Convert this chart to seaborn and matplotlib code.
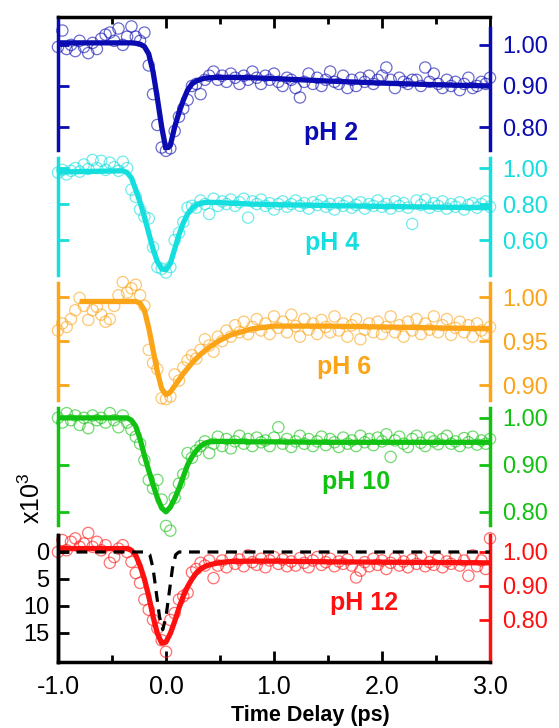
import matplotlib
matplotlib.use("Agg")
import matplotlib.pyplot as plt
import seaborn as sns

# ---------------- data ----------------
TIME = [
    -1.00, -0.96, -0.92, -0.88, -0.84, -0.80, -0.76, -0.72, -0.68, -0.64,
    -0.60, -0.56, -0.52, -0.48, -0.44, -0.40, -0.36, -0.32, -0.28, -0.24,
    -0.20, -0.16, -0.12, -0.08, -0.04, 0.00, 0.04, 0.08, 0.12, 0.16,
    0.20, 0.24, 0.28, 0.32, 0.36, 0.40, 0.44, 0.48, 0.52, 0.56,
    0.60, 0.64, 0.68, 0.72, 0.76, 0.80, 0.84, 0.88, 0.92, 0.96,
    1.00, 1.04, 1.08, 1.12, 1.16, 1.20, 1.24, 1.28, 1.32, 1.36,
    1.40, 1.44, 1.48, 1.52, 1.56, 1.60, 1.64, 1.68, 1.72, 1.76,
    1.80, 1.84, 1.88, 1.92, 1.96, 2.00, 2.04, 2.08, 2.12, 2.16,
    2.20, 2.24, 2.28, 2.32, 2.36, 2.40, 2.44, 2.48, 2.52, 2.56,
    2.60, 2.64, 2.68, 2.72, 2.76, 2.80, 2.84, 2.88, 2.92, 2.96,
    3.00]

PH2_DATA = [
    0.995, 1.035, 0.990, 1.000, 0.985, 1.010, 0.995, 0.980, 1.005, 0.990,
    1.015, 1.025, 1.030, 1.010, 1.040, 1.000, 1.020, 1.045, 1.020, 1.010,
    1.030, 0.950, 0.880, 0.805, 0.750, 0.742, 0.748, 0.790, 0.825, 0.845,
    0.866, 0.900, 0.905, 0.880, 0.915, 0.925, 0.935, 0.915, 0.925, 0.910,
    0.930, 0.920, 0.905, 0.925, 0.915, 0.935, 0.920, 0.905, 0.925, 0.915,
    0.930, 0.910, 0.900, 0.920, 0.915, 0.895, 0.872, 0.910, 0.930, 0.905,
    0.920, 0.900, 0.915, 0.935, 0.910, 0.905, 0.925, 0.895, 0.915, 0.900,
    0.920, 0.910, 0.925, 0.905, 0.915, 0.925, 0.945, 0.915, 0.895, 0.920,
    0.910, 0.905, 0.915, 0.915, 0.900, 0.945, 0.910, 0.930, 0.905, 0.895,
    0.915, 0.900, 0.910, 0.890, 0.905, 0.920, 0.895, 0.900, 0.910, 0.905,
    0.920]

PH4_DATA = [
    0.975, 0.990, 0.965, 0.985, 1.000, 0.980, 1.020, 0.995, 1.045, 1.000,
    1.040, 0.990, 1.030, 1.005, 0.985, 1.035, 1.000, 0.880, 0.840, 0.770,
    0.730, 0.720, 0.560, 0.450, 0.440, 0.420, 0.450, 0.600, 0.640, 0.700,
    0.780, 0.790, 0.780, 0.820, 0.800, 0.745, 0.830, 0.790, 0.815, 0.800,
    0.825, 0.790, 0.810, 0.830, 0.725, 0.815, 0.800, 0.825, 0.790, 0.805,
    0.770, 0.800, 0.815, 0.785, 0.800, 0.820, 0.790, 0.805, 0.775, 0.810,
    0.795, 0.820, 0.785, 0.800, 0.770, 0.805, 0.790, 0.815, 0.780, 0.795,
    0.810, 0.775, 0.800, 0.790, 0.820, 0.785, 0.800, 0.775, 0.815, 0.790,
    0.805, 0.780, 0.690, 0.820, 0.795, 0.825, 0.780, 0.805, 0.790, 0.815,
    0.775, 0.800, 0.785, 0.810, 0.770, 0.795, 0.805, 0.780, 0.800, 0.815,
    0.785]

PH6_DATA = [
    0.962, 0.970, 0.966, 0.975, 0.985, 0.999, 0.990, 0.974, 0.985, 0.989,
    0.980, 0.972, 0.975, 0.990, 1.002, 1.017, 1.005, 1.010, 1.014, 1.002,
    0.990, 0.940, 0.925, 0.918, 0.885, 0.884, 0.887, 0.912, 0.905, 0.920,
    0.928, 0.934, 0.930, 0.940, 0.952, 0.945, 0.938, 0.955, 0.950, 0.962,
    0.955, 0.968, 0.960, 0.972, 0.958, 0.966, 0.975, 0.962, 0.970, 0.958,
    0.978, 0.965, 0.972, 0.960, 0.980, 0.967, 0.955, 0.975, 0.963, 0.970,
    0.958, 0.974, 0.966, 0.960, 0.978, 0.962, 0.970, 0.955, 0.968, 0.975,
    0.952, 0.963, 0.970, 0.960, 0.972, 0.958, 0.966, 0.978, 0.960, 0.968,
    0.955, 0.972, 0.962, 0.975, 0.958, 0.970, 0.963, 0.978, 0.960, 0.968,
    0.975, 0.957, 0.965, 0.972, 0.960, 0.968, 0.955, 0.970, 0.962, 0.958,
    0.966]

PH10_DATA = [
    1.000, 0.990, 1.010, 0.995, 1.005, 0.985, 1.000, 0.978, 1.005, 0.995,
    1.000, 0.990, 1.010, 0.995, 0.980, 1.005, 0.990, 0.975, 0.960, 0.945,
    0.910, 0.868, 0.850, 0.868, 0.826, 0.770, 0.760, 0.830, 0.860, 0.880,
    0.925, 0.915, 0.930, 0.940, 0.950, 0.925, 0.945, 0.960, 0.940, 0.955,
    0.935, 0.950, 0.962, 0.945, 0.955, 0.940, 0.958, 0.948, 0.952, 0.940,
    0.958, 0.980, 0.945, 0.955, 0.938, 0.950, 0.962, 0.945, 0.955, 0.940,
    0.950, 0.960, 0.942, 0.955, 0.948, 0.938, 0.958, 0.945, 0.952, 0.940,
    0.962, 0.948, 0.955, 0.942, 0.958, 0.950, 0.965, 0.917, 0.952, 0.960,
    0.945, 0.938, 0.955, 0.962, 0.947, 0.940, 0.958, 0.950, 0.944, 0.955,
    0.962, 0.945, 0.950, 0.940, 0.957, 0.948, 0.960, 0.943, 0.952, 0.945,
    0.955]

PH12_DATA = [
    1.000, 1.035, 1.005, 1.030, 1.040, 1.015, 1.025, 1.056, 1.015, 1.030,
    1.005, 1.020, 0.968, 0.985, 1.010, 1.020, 1.000, 0.971, 0.938, 0.909,
    0.860, 0.830, 0.800, 0.775, 0.740, 0.706, 0.800, 0.820, 0.860, 0.870,
    0.880, 0.940, 0.950, 0.968, 0.960, 0.975, 0.923, 0.960, 0.975, 0.955,
    0.985, 0.965, 0.978, 0.958, 0.990, 0.970, 0.962, 0.980, 0.955, 0.975,
    0.985, 0.965, 0.978, 0.958, 0.972, 0.960, 0.982, 0.968, 0.955, 0.975,
    0.985, 0.962, 0.970, 0.980, 0.958, 0.972, 0.965, 0.978, 0.960, 0.925,
    0.945, 0.970, 0.958, 0.980, 0.962, 0.975, 0.950, 0.968, 0.982, 0.960,
    0.972, 0.955, 0.978, 0.965, 0.985, 0.958, 0.970, 0.962, 0.980, 0.955,
    0.972, 0.965, 0.985, 0.960, 0.975, 0.930, 0.990, 0.958, 0.975, 0.950,
    1.040]

FIT_T = [
    -1.00, -0.40, -0.36, -0.32, -0.28, -0.24, -0.20, -0.16, -0.12, -0.08,
    -0.04, 0.00, 0.04, 0.08, 0.12, 0.16, 0.20, 0.24, 0.28, 0.32,
    0.36, 0.40, 0.50, 0.60, 0.80, 1.00, 1.50, 2.00, 2.50, 3.00]
PH6_FIT_T = [
    -0.80, -0.40, -0.36, -0.32, -0.28, -0.24, -0.20, -0.16, -0.12, -0.08,
    -0.04, 0.00, 0.04, 0.08, 0.12, 0.16, 0.20, 0.24, 0.28, 0.32,
    0.36, 0.40, 0.50, 0.60, 0.80, 1.00, 1.50, 2.00, 2.50, 3.00]

PH2_FIT = [
    1.005, 1.005, 1.005, 1.005, 1.004, 1.002, 0.996, 0.978, 0.935, 0.870,
    0.800, 0.745, 0.755, 0.800, 0.835, 0.865, 0.890, 0.905, 0.912, 0.916,
    0.919, 0.920, 0.921, 0.921, 0.920, 0.918, 0.912, 0.907, 0.903, 0.900]
PH4_FIT = [
    0.978, 0.985, 0.975, 0.945, 0.880, 0.810, 0.730, 0.640, 0.550, 0.480,
    0.440, 0.435, 0.470, 0.550, 0.630, 0.695, 0.745, 0.775, 0.795, 0.805,
    0.809, 0.810, 0.808, 0.805, 0.800, 0.797, 0.792, 0.787, 0.783, 0.780]
PH6_FIT = [
    0.995, 0.995, 0.995, 0.995, 0.995, 0.993, 0.985, 0.965, 0.940, 0.915,
    0.896, 0.889, 0.892, 0.899, 0.906, 0.913, 0.919, 0.925, 0.930, 0.935,
    0.939, 0.943, 0.951, 0.957, 0.964, 0.967, 0.967, 0.966, 0.965, 0.964]
PH10_FIT = [
    1.000, 1.000, 1.000, 0.995, 0.982, 0.955, 0.920, 0.888, 0.858, 0.830,
    0.808, 0.800, 0.810, 0.828, 0.850, 0.875, 0.900, 0.917, 0.930, 0.940,
    0.946, 0.949, 0.950, 0.950, 0.949, 0.949, 0.948, 0.948, 0.948, 0.948]
PH12_FIT = [
    1.010, 1.010, 1.010, 1.005, 0.990, 0.960, 0.920, 0.870, 0.810, 0.760,
    0.732, 0.735, 0.760, 0.795, 0.835, 0.870, 0.898, 0.920, 0.938, 0.950,
    0.957, 0.962, 0.969, 0.972, 0.973, 0.973, 0.971, 0.970, 0.969, 0.968]

# instrument response (left axis of the pH 12 panel, x10^3, inverted)
IRF_T = [-1.00, -0.18, -0.15, -0.12, -0.09, -0.06, -0.03, 0.00, 0.03, 0.06, 0.09, 0.12, 3.00]
IRF = [0.0, 0.0, 0.5, 3.0, 7.5, 12.0, 14.4, 12.0, 7.5, 3.0, 0.5, 0.0, 0.0]

PANEL_NAMES = ["pH 2", "pH 4", "pH 6", "pH 10", "pH 12"]
PH2_TICKS, PH2_TICKLABELS = [0.80, 0.90, 1.00], ["0.80", "0.90", "1.00"]
PH4_TICKS, PH4_TICKLABELS = [0.60, 0.80, 1.00], ["0.60", "0.80", "1.00"]
PH6_TICKS, PH6_TICKLABELS = [0.90, 0.95, 1.00], ["0.90", "0.95", "1.00"]
PH10_TICKS, PH10_TICKLABELS = [0.80, 0.90, 1.00], ["0.80", "0.90", "1.00"]
PH12_TICKS, PH12_TICKLABELS = [0.80, 0.90, 1.00], ["0.80", "0.90", "1.00"]
IRF_TICKS, IRF_TICKLABELS = [0, 5, 10, 15], ["0", "5", "10", "15"]
X_TICKS = [-1.0, 0.0, 1.0, 2.0, 3.0]
X_TICKLABELS = ["-1.0", "0.0", "1.0", "2.0", "3.0"]
X_MINOR = [-0.5, 0.5, 1.5, 2.5]
X_LABEL = "Time Delay (ps)"
IRF_LABEL = "x10$^{3}$"

# ---------------- style ----------------
sns.set_style("white")
plt.rcParams["font.family"] = ["Liberation Sans", "DejaVu Sans"]
plt.rcParams["axes.unicode_minus"] = False
plt.rcParams["mathtext.fontset"] = "custom"
plt.rcParams["mathtext.rm"] = "Liberation Sans"
plt.rcParams["mathtext.it"] = "Liberation Sans:italic"
plt.rcParams["mathtext.bf"] = "Liberation Sans:bold"
plt.rcParams["mathtext.default"] = "regular"

W, H = 559, 728
fig = plt.figure(figsize=(W / 100, H / 100), dpi=100)
fig.patch.set_facecolor("white")


def fx(px):
    return px / W


def fy(py):
    return 1 - py / H


X0, X1 = 58, 490
SPINE_W = 2.5

panels = [
    dict(name=PANEL_NAMES[0], data=PH2_DATA, fit_t=FIT_T, fit=PH2_FIT,
         ticks=PH2_TICKS, labels=PH2_TICKLABELS, color="#0b0bb2",
         ylim=(0.744, 1.068), top=17, bottom=150, lab=(331, 133)),
    dict(name=PANEL_NAMES[1], data=PH4_DATA, fit_t=FIT_T, fit=PH4_FIT,
         ticks=PH4_TICKS, labels=PH4_TICKLABELS, color="#14dede",
         ylim=(0.406, 1.056), top=158, bottom=275, lab=(332, 243)),
    dict(name=PANEL_NAMES[2], data=PH6_DATA, fit_t=PH6_FIT_T, fit=PH6_FIT,
         ticks=PH6_TICKS, labels=PH6_TICKLABELS, color="#fba418",
         ylim=(0.883, 1.016), top=283, bottom=400, lab=(344, 367)),
    dict(name=PANEL_NAMES[3], data=PH10_DATA, fit_t=FIT_T, fit=PH10_FIT,
         ticks=PH10_TICKS, labels=PH10_TICKLABELS, color="#12c212",
         ylim=(0.772, 1.021), top=408, bottom=525, lab=(356, 482)),
    dict(name=PANEL_NAMES[4], data=PH12_DATA, fit_t=FIT_T, fit=PH12_FIT,
         ticks=PH12_TICKS, labels=PH12_TICKLABELS, color="#ff1010",
         ylim=(0.676, 1.05), top=535, bottom=662, lab=(364, 603)),
]

n = len(panels)
for i, p in enumerate(panels):
    c = p["color"]
    ax = fig.add_axes([fx(X0), fy(p["bottom"]), fx(X1) - fx(X0),
                       fy(p["top"]) - fy(p["bottom"])])
    ax.patch.set_alpha(0)
    twin = None
    if i == n - 1:
        twin = ax.twinx()

    sns.scatterplot(x=TIME, y=p["data"], ax=ax, s=66, marker="o",
                    facecolor="none", edgecolor=c, linewidth=0.9,
                    alpha=0.6, clip_on=False, zorder=2, legend=False)
    sns.lineplot(x=p["fit_t"], y=p["fit"], ax=ax, color=c, linewidth=3.8,
                 errorbar=None, zorder=3, solid_joinstyle="round",
                 solid_capstyle="butt", legend=False)

    ax.set_xlim(-1.0, 3.0)
    ax.set_ylim(*p["ylim"])
    ax.set_xlabel("")
    ax.set_ylabel("")

    ax.set_yticks(p["ticks"])
    ax.set_yticklabels(p["labels"])
    ax.yaxis.set_ticks_position("both")
    ax.tick_params(axis="y", which="major", direction="in", length=8,
                   width=2, colors=c, labelsize=17, left=True, right=True,
                   labelleft=False, labelright=True, pad=9)

    for s in ("left", "right", "top", "bottom"):
        ax.spines[s].set_linewidth(SPINE_W)
    ax.spines["left"].set_color(c)
    ax.spines["right"].set_color(c)
    ax.spines["top"].set_color("black")
    ax.spines["bottom"].set_color("black")
    ax.spines["top"].set_visible(i == 0)
    ax.spines["bottom"].set_visible(i == n - 1)

    if i == 0:
        ax.spines["right"].set_bounds(p["ylim"][0], 1.041)
        ax.set_xticks(X_TICKS)
        ax.set_xticks(X_MINOR, minor=True)
        ax.tick_params(axis="x", which="both", direction="in", top=True,
                       bottom=False, labeltop=False, labelbottom=False,
                       colors="black", width=2)
        ax.tick_params(axis="x", which="major", length=8)
        ax.tick_params(axis="x", which="minor", length=5)
    elif i == n - 1:
        ax.set_xticks(X_TICKS)
        ax.set_xticklabels(X_TICKLABELS)
        ax.set_xticks(X_MINOR, minor=True)
        ax.tick_params(axis="x", which="both", direction="in", top=False,
                       bottom=True, labelbottom=True, colors="black",
                       width=2, labelsize=18, pad=9)
        ax.tick_params(axis="x", which="major", length=8)
        ax.tick_params(axis="x", which="minor", length=5)
        ax.spines["left"].set_color("black")
        ax.tick_params(axis="y", left=False, labelleft=False)
    else:
        ax.set_xticks([])
        ax.tick_params(axis="x", which="both", bottom=False, top=False,
                       labelbottom=False)

    if twin is not None:
        sns.lineplot(x=IRF_T, y=IRF, ax=twin, color="black", linewidth=2.3,
                     linestyle=(0, (3.4, 2.4)), errorbar=None, legend=False)
        twin.set_ylim(20.4, -3.15)
        twin.set_xlim(-1.0, 3.0)
        twin.set_ylabel("")
        twin.yaxis.tick_left()
        twin.yaxis.set_label_position("left")
        twin.set_yticks(IRF_TICKS)
        twin.set_yticklabels(IRF_TICKLABELS)
        twin.tick_params(axis="y", which="major", direction="in", length=8,
                         width=2, colors="black", labelsize=17, left=True,
                         right=False, labelleft=True, labelright=False, pad=6)
        for s in ("right", "top", "bottom"):
            twin.spines[s].set_visible(False)
        twin.spines["left"].set_color("black")
        twin.spines["left"].set_linewidth(SPINE_W)
        ax.yaxis.set_ticks_position("right")
        ax.tick_params(axis="y", which="major", direction="in", length=8,
                       width=2, colors=c, labelsize=17, right=True,
                       labelright=True, left=False, labelleft=False, pad=9)

    fig.text(fx(p["lab"][0]), fy(p["lab"][1]), p["name"], color=c,
             fontsize=18, fontweight="bold", ha="center", va="center")

fig.text(fx(310), fy(715), X_LABEL, fontsize=15.5, fontweight="bold",
         ha="center", va="center", color="black")
fig.text(fx(32), fy(498), IRF_LABEL, fontsize=18, rotation=90,
         ha="center", va="center", color="black")

fig.savefig("out.png", dpi=100, facecolor="white")
